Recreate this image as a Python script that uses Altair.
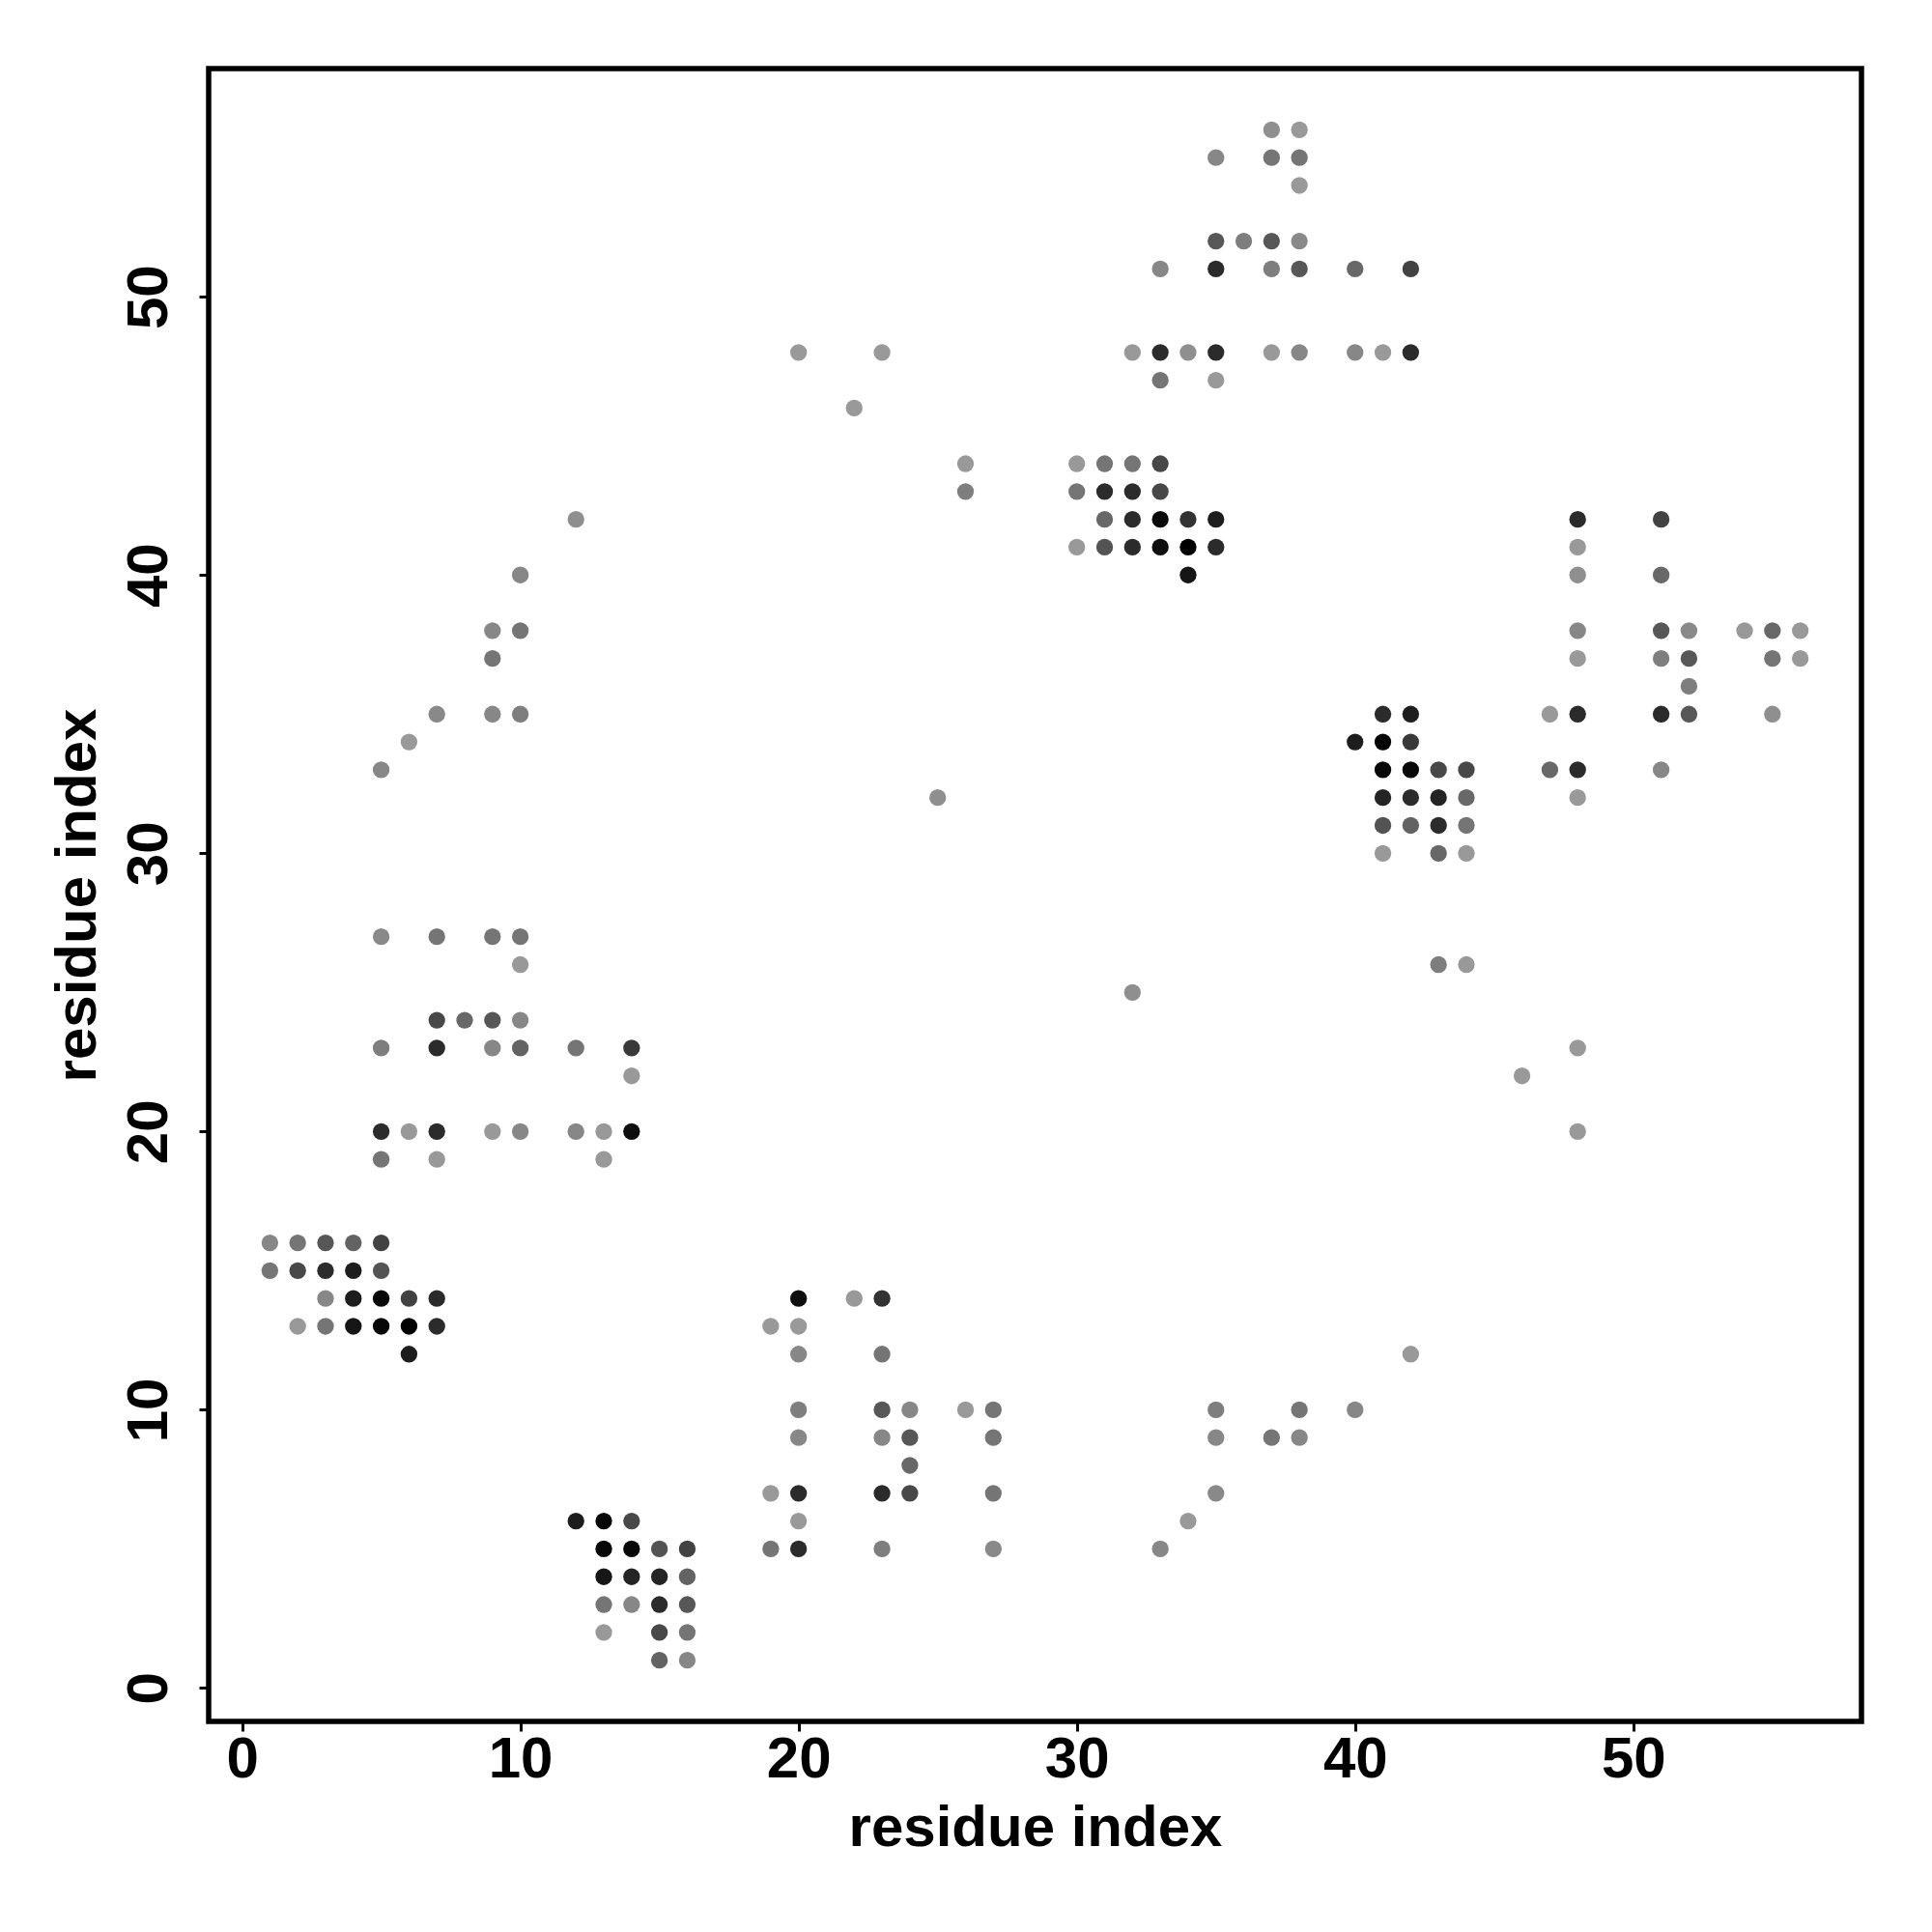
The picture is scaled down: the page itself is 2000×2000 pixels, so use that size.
import altair as alt
import pandas as pd

# contact map: (row y, [(x, grey level 0-255)])
rows = {
    56: [(37, 144), (38, 153)],
    55: [(35, 136), (37, 119), (38, 119)],
    54: [(38, 153)],
    52: [(35, 90), (36, 128), (37, 90), (38, 138)],
    51: [(33, 136), (35, 42), (37, 128), (38, 90), (40, 106), (42, 68)],
    48: [(20, 153), (23, 153), (32, 153), (33, 42), (34, 144), (35, 42), (37, 153), (38, 136), (40, 136), (41, 153), (42, 42)],
    47: [(33, 119), (35, 153)],
    46: [(22, 153)],
    44: [(26, 153), (30, 153), (31, 119), (32, 119), (33, 74)],
    43: [(26, 128), (30, 119), (31, 42), (32, 42), (33, 74)],
    42: [(12, 144), (31, 106), (32, 42), (33, 5), (34, 51), (35, 26), (48, 42), (51, 68)],
    41: [(30, 153), (31, 85), (32, 42), (33, 10), (34, 0), (35, 42), (48, 153)],
    40: [(10, 136), (34, 17), (48, 144), (51, 106)],
    38: [(9, 136), (10, 119), (48, 136), (51, 90), (52, 138), (54, 153), (55, 106), (56, 153)],
    37: [(9, 119), (48, 153), (51, 128), (52, 90), (55, 119), (56, 153)],
    36: [(52, 128)],
    35: [(7, 138), (9, 136), (10, 128), (41, 42), (42, 26), (47, 153), (48, 42), (51, 42), (52, 90), (55, 144)],
    34: [(6, 153), (40, 26), (41, 0), (42, 58)],
    33: [(5, 136), (41, 5), (42, 5), (43, 74), (44, 74), (47, 106), (48, 42), (51, 136)],
    32: [(25, 144), (41, 34), (42, 42), (43, 34), (44, 106), (48, 153)],
    31: [(41, 85), (42, 102), (43, 42), (44, 119)],
    30: [(41, 153), (43, 106), (44, 153)],
    27: [(5, 138), (7, 119), (9, 119), (10, 119)],
    26: [(10, 153), (43, 128), (44, 153)],
    25: [(32, 144)],
    24: [(7, 74), (8, 106), (9, 90), (10, 136)],
    23: [(5, 128), (7, 42), (9, 136), (10, 102), (12, 119), (14, 58), (48, 153)],
    22: [(14, 153), (46, 153)],
    20: [(5, 42), (6, 153), (7, 42), (9, 153), (10, 136), (12, 136), (13, 153), (14, 10), (48, 153)],
    19: [(5, 119), (7, 153), (13, 153)],
    16: [(1, 136), (2, 119), (3, 90), (4, 102), (5, 68)],
    15: [(1, 119), (2, 74), (3, 42), (4, 26), (5, 85)],
    14: [(3, 136), (4, 26), (5, 5), (6, 68), (7, 42), (20, 10), (22, 153), (23, 51)],
    13: [(2, 153), (3, 119), (4, 17), (5, 5), (6, 0), (7, 42), (19, 153), (20, 153)],
    12: [(6, 26), (20, 136), (23, 119), (42, 153)],
    10: [(20, 128), (23, 90), (24, 136), (26, 153), (27, 119), (35, 128), (38, 119), (40, 136)],
    9: [(20, 136), (23, 136), (24, 90), (27, 119), (35, 136), (37, 119), (38, 136)],
    8: [(24, 106)],
    7: [(19, 153), (20, 42), (23, 42), (24, 74), (27, 119), (35, 138)],
    6: [(12, 26), (13, 5), (14, 74), (20, 153), (34, 153)],
    5: [(13, 5), (14, 5), (15, 85), (16, 68), (19, 119), (20, 42), (23, 128), (27, 138), (33, 136)],
    4: [(13, 17), (14, 34), (15, 34), (16, 102)],
    3: [(13, 119), (14, 136), (15, 42), (16, 90)],
    2: [(13, 153), (15, 74), (16, 119)],
    1: [(15, 102), (16, 136)],
}

xs, ys, grey = [], [], []
for yv, pts in rows.items():
    for xv, g in pts:
        xs.append(xv)
        ys.append(yv)
        grey.append(g)

ticks = [0, 10, 20, 30, 40, 50]

df = pd.DataFrame({"i": xs, "j": ys, "strength": [round(1 - g / 153, 3) for g in grey]})

FONT = "Liberation Sans"
W = 1711
H = 1711

chart = alt.Chart(df).mark_circle(size=300, opacity=1, strokeWidth=0).encode(
    x=alt.X("i:Q",
            scale=alt.Scale(domain=[-1.2, 58.2], nice=False, zero=False),
            axis=alt.Axis(values=ticks, format="d", title="residue index",
                          labelFont=FONT, labelFontSize=60, labelFontWeight="bold",
                          labelColor="black", labelAlign="center", labelBaseline="alphabetic",
                          labelPadding=47, labelFlush=False, labelOverlap=False, labelBound=False,
                          tickColor="black", tickWidth=3, tickSize=10,
                          domain=False, grid=False,
                          titleFont=FONT, titleFontSize=60, titleFontWeight="bold",
                          titleColor="black", titleX=W / 2, titleY=128,
                          titleAlign="center", titleBaseline="alphabetic")),
    y=alt.Y("j:Q",
            scale=alt.Scale(domain=[-1.2, 58.2], nice=False, zero=False),
            axis=alt.Axis(values=ticks, format="d", title="residue index",
                          labelFont=FONT, labelFontSize=60, labelFontWeight="bold",
                          labelColor="black", labelAngle=270, labelAlign="center",
                          labelBaseline="alphabetic", labelPadding=34,
                          labelFlush=False, labelOverlap=False, labelBound=False,
                          tickColor="black", tickWidth=3, tickSize=10,
                          domain=False, grid=False,
                          titleFont=FONT, titleFontSize=60, titleFontWeight="bold",
                          titleColor="black", titleAngle=270, titleX=-118, titleY=H / 2,
                          titleAlign="center", titleBaseline="alphabetic")),
    color=alt.Color("strength:Q",
                    scale=alt.Scale(domain=[0, 1], range=["#999999", "#000000"]),
                    legend=None),
).properties(
    width=W, height=H,
    background="white",
    autosize=alt.AutoSizeParams(type="none"),
    padding={"left": 208, "top": 63, "right": 65, "bottom": 209},
).configure_view(
    stroke="black", strokeWidth=5.5, fill="white"
)

chart.save("out.html", embed_options={"renderer": "svg", "actions": False})
